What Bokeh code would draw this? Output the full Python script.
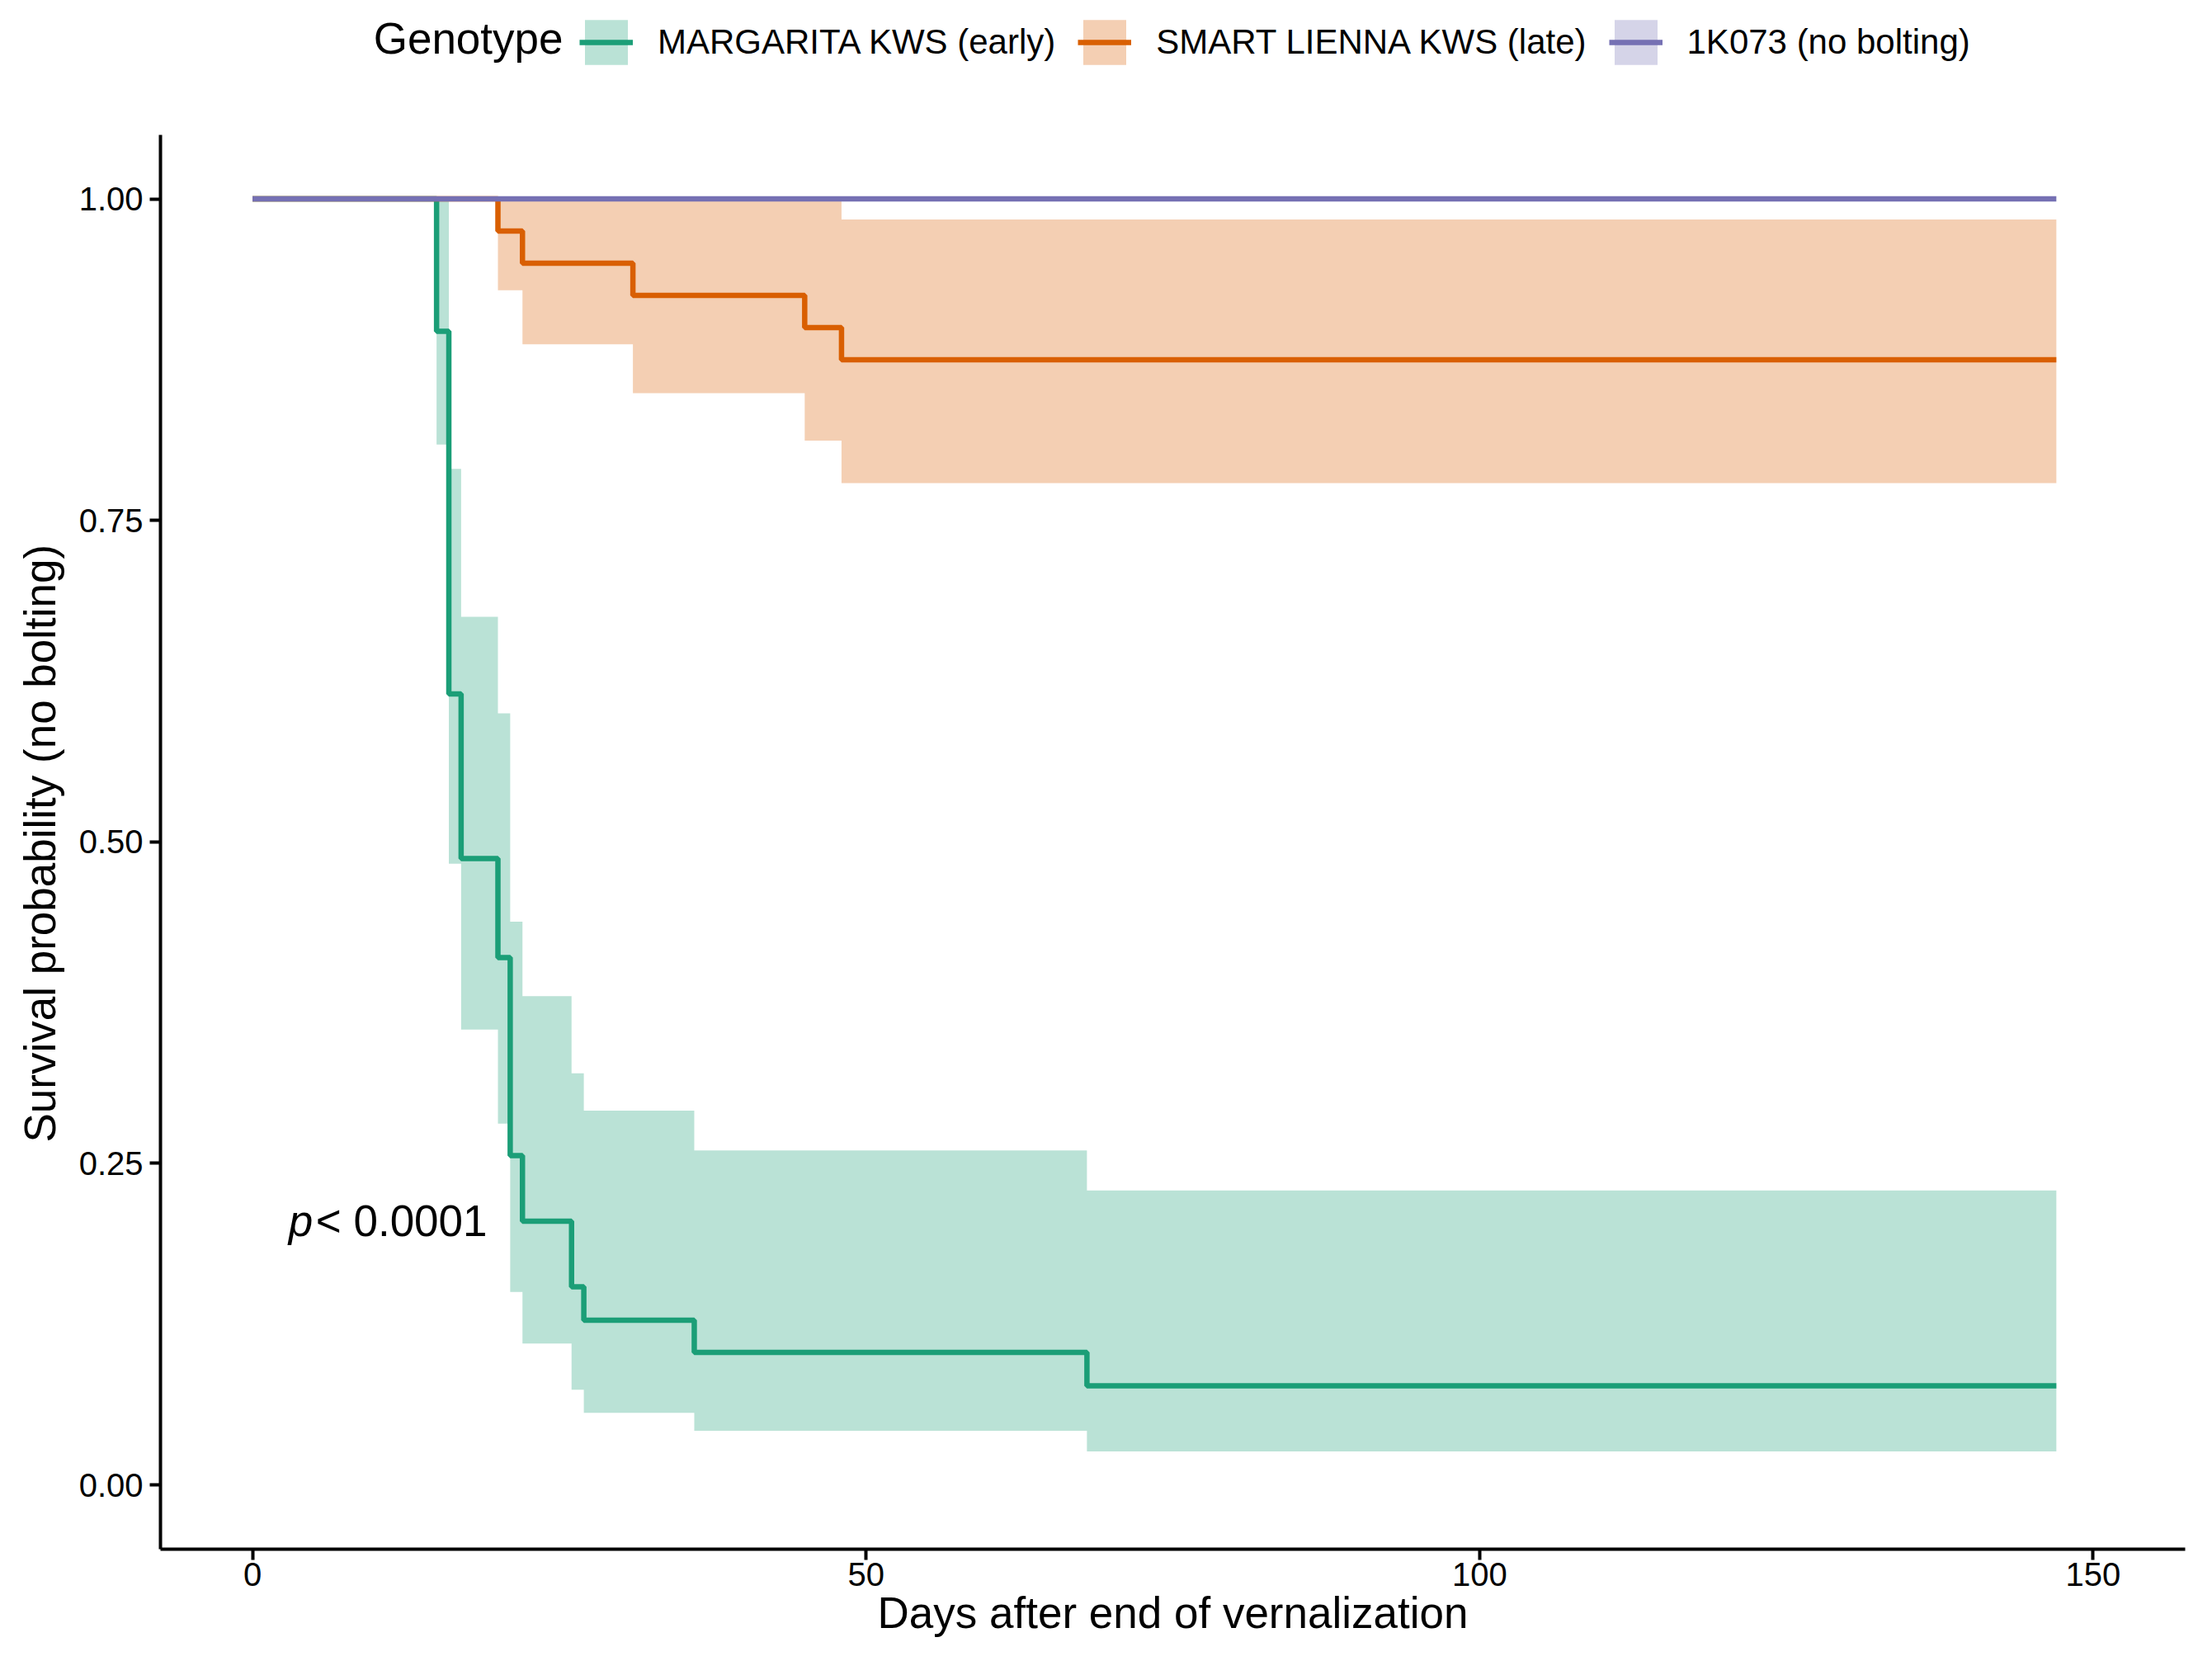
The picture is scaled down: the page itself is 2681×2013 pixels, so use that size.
from bokeh.plotting import figure
from bokeh.models import (Range1d, FixedTicker, Legend, LegendItem, Label, Title,
                          NumeralTickFormatter)
from bokeh.embed import file_html
from bokeh.resources import INLINE
from bokeh.core.properties import value

# ---------------- data ----------------
genotypes = ["MARGARITA KWS (early)", "SMART LIENNA KWS (late)", "1K073 (no bolting)"]
colors = ["#1B9E77", "#D95F02", "#7570B3"]

time_early = [0, 15, 16, 17, 20, 21, 22, 26, 27, 36, 68, 147]
surv_early = [1.0, 0.897, 0.615, 0.487, 0.410, 0.256, 0.205, 0.154, 0.128, 0.103, 0.077, 0.077]
lower_early = [1.0, 0.809, 0.483, 0.354, 0.281, 0.150, 0.110, 0.074, 0.056, 0.042, 0.026, 0.026]
upper_early = [1.0, 1.000, 0.790, 0.675, 0.600, 0.438, 0.380, 0.320, 0.291, 0.260, 0.229, 0.229]

time_late = [0, 20, 22, 31, 45, 48, 147]
surv_late = [1.0, 0.975, 0.950, 0.925, 0.900, 0.875, 0.875]
lower_late = [1.0, 0.929, 0.887, 0.849, 0.812, 0.779, 0.779]
upper_late = [1.0, 1.000, 1.000, 1.000, 1.000, 0.984, 0.984]

time_none = [0, 147]
surv_none = [1.0, 1.0]
lower_none = [1.0, 1.0]
upper_none = [1.0, 1.0]

x_ticks = [0, 50, 100, 150]
y_ticks = [0.0, 0.25, 0.5, 0.75, 1.0]
x_title = "Days after end of vernalization"
y_title = "Survival probability (no bolting)"
legend_title = "Genotype"
pval_label = "< 0.0001"
pval_x = 2.94
pval_y = 0.2

series = [
    (time_early, surv_early, lower_early, upper_early),
    (time_late, surv_late, lower_late, upper_late),
    (time_none, surv_none, lower_none, upper_none),
]

FONT = "Liberation Sans"

# layout (screen px): panel from x=194..2648, y=163 (value 1.05) .. 1877 (value -0.05)
FRAME_BOTTOM = 1877
PX_PER_UNIT = 1558.5
Y_LO, Y_HI = -0.05, 1.05
Y_TOP = Y_LO + FRAME_BOTTOM / PX_PER_UNIT   # the data frame reaches up to the canvas top

p = figure(width=2665, height=1997, output_backend="svg", toolbar_location=None,
           x_range=Range1d(-7.5, 157.5), y_range=Range1d(Y_LO, Y_TOP),
           min_border_left=194, min_border_right=17, min_border_top=0, min_border_bottom=120,
           x_axis_label=x_title)
p.outline_line_color = None
p.grid.visible = False
p.background_fill_color = "white"
p.border_fill_color = "white"

for ax in (p.xaxis[0], p.yaxis[0]):
    ax.axis_line_width = 4
    ax.axis_line_color = "black"
    ax.major_tick_line_width = 4
    ax.major_tick_line_color = "black"
    ax.major_tick_out = 13
    ax.major_tick_in = 0
    ax.minor_tick_line_color = None
    ax.major_label_text_font = FONT
    ax.major_label_text_font_size = "40px"
    ax.major_label_text_color = "black"
    ax.axis_label_text_font = FONT
    ax.axis_label_text_font_size = "53px"
    ax.axis_label_text_font_style = "normal"
    ax.axis_label_text_color = "black"

p.xaxis.ticker = FixedTicker(ticks=x_ticks)
p.yaxis.ticker = FixedTicker(ticks=y_ticks)
p.yaxis.bounds = (Y_LO, Y_HI)
p.yaxis.formatter = NumeralTickFormatter(format="0.00")
p.xaxis.major_label_standoff = 3
p.xaxis.axis_label_standoff = 0
p.yaxis.major_label_standoff = 8

# y-axis title, placed in the left panel and aligned with the bounded axis
p.add_layout(Title(text=y_title, align="left", offset=493, vertical_align="bottom",
                   standoff=30, text_font=FONT, text_font_size="53px",
                   text_font_style="normal", text_color="black"), "left")

band_renderers = []
for (t, s, lo, up), c in zip(series, colors):
    band_renderers.append(p.varea_step(x=t, y1=lo, y2=up, step_mode="after",
                                       fill_color=c, fill_alpha=0.3))
line_renderers = []
for (t, s, lo, up), c in zip(series, colors):
    line_renderers.append(p.step(x=t, y=s, mode="after", line_color=c, line_width=6.5))

p.text(x=[pval_x], y=[pval_y], text=["p"], y_offset=-8, text_font=value(FONT),
       text_font_size="53px", text_font_style="italic", text_align="left",
       text_baseline="middle", text_color="black")
p.text(x=[pval_x], y=[pval_y], text=[pval_label], x_offset=33, y_offset=-8,
       text_font=value(FONT), text_font_size="53px", text_align="left",
       text_baseline="middle", text_color="black")

# legend row at the top (inside the tall frame, above the bounded axis)
items = [LegendItem(label=g, renderers=[b, l])
         for g, b, l in zip(genotypes, band_renderers, line_renderers)]
legend = Legend(items=items, orientation="horizontal", location=(508, 1792),
                glyph_width=65, glyph_height=68, label_height=68,
                label_standoff=30, spacing=27,
                label_text_font=FONT, label_text_font_size="42px", label_text_color="black",
                padding=0, margin=0, border_line_color=None, background_fill_alpha=0)
p.add_layout(legend)
p.add_layout(Label(x=9.86, y=1.1248, text=legend_title, text_font=FONT, text_font_size="53px",
                   text_baseline="middle", text_align="left", text_color="black"))

open("out.html", "w").write(file_html(p, INLINE))
